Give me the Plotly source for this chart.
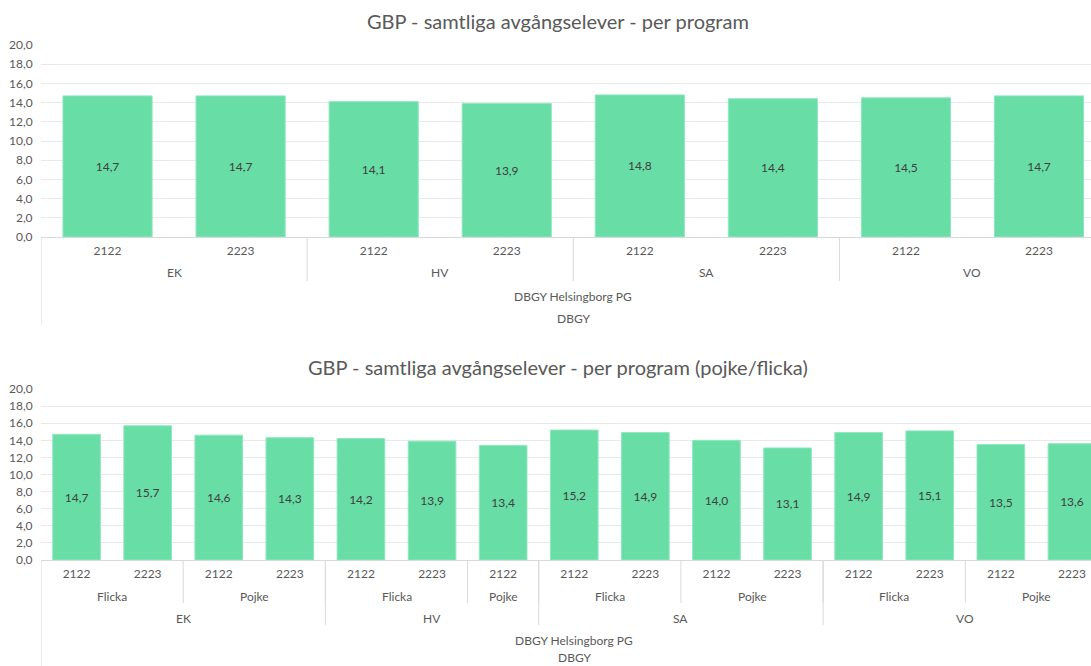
import plotly.graph_objects as go

# ---------------- data ----------------
title1 = "GBP - samtliga avgångselever - per program"
years1 = ["2122", "2223", "2122", "2223", "2122", "2223", "2122", "2223"]
programs1 = ["EK", "EK", "HV", "HV", "SA", "SA", "VO", "VO"]
values1 = [14.7, 14.7, 14.1, 13.9, 14.8, 14.4, 14.5, 14.7]

title2 = "GBP - samtliga avgångselever - per program (pojke/flicka)"
years2 = ["2122", "2223", "2122", "2223",
          "2122", "2223", "2122",
          "2122", "2223", "2122", "2223",
          "2122", "2223", "2122", "2223"]
genders2 = ["Flicka", "Flicka", "Pojke", "Pojke",
            "Flicka", "Flicka", "Pojke",
            "Flicka", "Flicka", "Pojke", "Pojke",
            "Flicka", "Flicka", "Pojke", "Pojke"]
programs2 = ["EK"] * 4 + ["HV"] * 3 + ["SA"] * 4 + ["VO"] * 4
values2 = [14.7, 15.7, 14.6, 14.3, 14.2, 13.9, 13.4, 15.2, 14.9, 14.0, 13.1, 14.9, 15.1, 13.5, 13.6]

school = "DBGY Helsingborg PG"
org = "DBGY"
yticks = [0, 2, 4, 6, 8, 10, 12, 14, 16, 18, 20]

# ---------------- style ----------------
W, H = 1091, 666
FONT = "Lato, 'Open Sans', sans-serif"
TXT = "#595959"
BAR = "#68DDA6"
GRID = "#e9e9e9"
LINE = "#d9d9d9"
FS = 12


def py(px):
    return 1 - px / H


def runs(keys):
    out = []
    start = 0
    for i in range(1, len(keys) + 1):
        if i == len(keys) or keys[i] != keys[start]:
            out.append((start, i - 1, keys[start]))
            start = i
    return out


fig = go.Figure()

for vals, xa, ya in [(values1, "x", "y"), (values2, "x2", "y2")]:
    fig.add_trace(go.Bar(x=list(range(len(vals))), y=vals, xaxis=xa, yaxis=ya,
                         marker=dict(color=BAR, line=dict(color="#8fe8bd", width=1)),
                         texttemplate="%{y:.1f}", textposition="inside", insidetextanchor="middle",
                         textfont=dict(color="#404040", size=FS, family=FONT),
                         hoverinfo="skip", showlegend=False))

plot_w = W - 41
step1 = 133.07
step2 = 71.1

xcommon = dict(tickmode="array", showgrid=False, zeroline=False, showline=True,
               linecolor=LINE, linewidth=1, ticks="outside", ticklen=3,
               tickcolor="rgba(0,0,0,0)", tickfont=dict(size=FS, color=TXT, family=FONT),
               fixedrange=True, automargin=False)
ycommon = dict(range=[0, 20], tickvals=yticks, tickformat=".1f", showgrid=True,
               gridcolor=GRID, gridwidth=1, zeroline=False, showline=False,
               tickfont=dict(size=FS, color=TXT, family=FONT), ticks="outside", ticklen=5,
               tickcolor="rgba(0,0,0,0)", fixedrange=True, automargin=False)

fig.update_layout(
    width=W, height=H,
    margin=dict(l=41, r=0, t=0, b=0, autoexpand=False),
    paper_bgcolor="white", plot_bgcolor="white",
    separators=", ",
    bargap=0.33,
    font=dict(family=FONT, color=TXT),
    xaxis=dict(domain=[0, 1], anchor="y", range=[-0.5, -0.5 + plot_w / step1],
               tickvals=list(range(len(years1))), ticktext=years1, **xcommon),
    yaxis=dict(domain=[py(237), py(45)], anchor="x", **ycommon),
    xaxis2=dict(domain=[0, 1], anchor="y2", range=[-0.5, -0.5 + plot_w / step2],
                tickvals=list(range(len(years2))), ticktext=years2, **xcommon),
    yaxis2=dict(domain=[py(560), py(389)], anchor="x2", **ycommon),
)

annotations = []
shapes = []

# titles
for t, ypx in [(title1, 21), (title2, 367)]:
    annotations.append(dict(text=t, xref="paper", yref="paper", x=(558 - 41) / plot_w, y=py(ypx),
                            xanchor="center", yanchor="middle", showarrow=False,
                            font=dict(size=20, color=TXT, family=FONT)))


def label(text, xref, x, ypx, yanchor="middle"):
    annotations.append(dict(text=text, xref=xref, yref="paper", x=x, y=py(ypx),
                            xanchor="center", yanchor=yanchor, showarrow=False, borderpad=0,
                            font=dict(size=FS, color=TXT, family=FONT)))


def vline(xref, x, y0px, y1px):
    shapes.append(dict(type="line", xref=xref, yref="paper", x0=x, x1=x,
                       y0=py(y0px), y1=py(y1px), line=dict(color=LINE, width=1)))


# chart 1 hierarchy
for s, e, k in runs(programs1):
    label(k, "x", (s + e) / 2, 272)
    if s > 0:
        vline("x", s - 0.5, 237, 281)
n1 = len(values1)
label(school, "x", (n1 - 1) / 2, 296)
label(org, "x", (n1 - 1) / 2, 318)
vline("x", -0.5, 237, 325)

# chart 2 hierarchy
for s, e, k in runs(list(zip(programs2, genders2))):
    label(k[1], "x2", (s + e) / 2, 596)
    if s > 0:
        vline("x2", s - 0.5, 560, 603)
for s, e, k in runs(programs2):
    label(k, "x2", (s + e) / 2, 618)
    if s > 0:
        vline("x2", s - 0.5, 560, 625)
n2 = len(values2)
label(school, "x2", (n2 - 1) / 2, 640)
label(org, "x2", (n2 - 1) / 2, 666, yanchor="bottom")
vline("x2", -0.5, 560, 666)

fig.update_layout(annotations=annotations, shapes=shapes)

post = (
    "document.documentElement.style.margin='0px';"
    "document.documentElement.style.overflow='hidden';"
    "document.body.style.margin='0px';"
    "document.body.style.overflow='hidden';"
    "var gd=document.getElementById('{plot_id}');"
    "if(gd){gd.style.position='fixed';gd.style.top='0px';gd.style.left='0px';}"
)
fig.write_html("out.html", config={"displayModeBar": False}, post_script=post)
